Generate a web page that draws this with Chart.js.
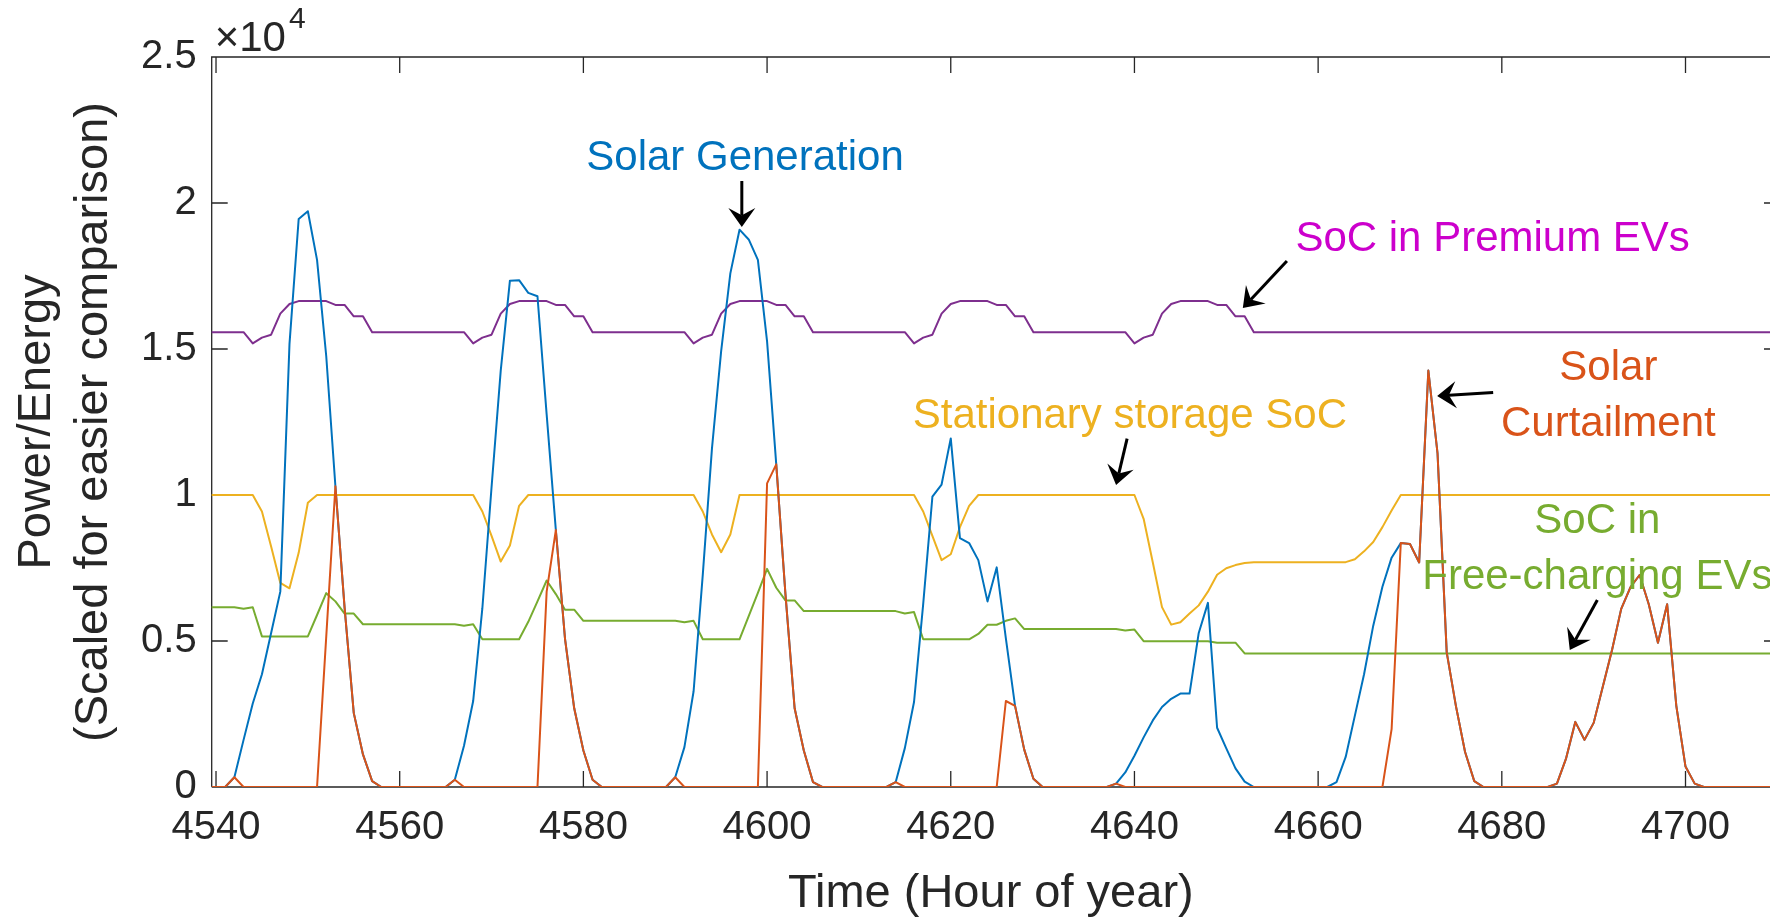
<!DOCTYPE html>
<html>
<head>
<meta charset="utf-8">
<script src="https://cdn.jsdelivr.net/npm/chart.js@4.4.1/dist/chart.umd.min.js"></script>
<style>
  html, body { margin: 0; padding: 0; background: #ffffff; }
  #c { display: block; }
</style>
</head>
<body>
<canvas id="c" width="1770" height="918" style="width:1770px;height:918px"></canvas>
<script>
// ---------------- DATA ----------------
// hour of year, one point per hour (4539 .. 4710)
const hours = [];
for (let h = 4539; h <= 4710; h++) hours.push(h);

const xTickValues = [4540, 4560, 4580, 4600, 4620, 4640, 4660, 4680, 4700];
const yTickValues = [0, 5000, 10000, 15000, 20000, 25000];
const yTickLabels = ['0', '0.5', '1', '1.5', '2', '2.5'];

const solarGeneration = [
  0, 0, 0, 333, 1614, 2862, 3860, 5275, 6690,
  15176, 19452, 19718, 18054, 14760, 10300, 6140, 2529, 1115, 200,
  0, 0, 0, 0, 0, 0, 0, 0,
  250, 1414, 2945, 6123, 10267, 14261, 17340, 17357, 16923, 16806, 12760, 8800, 5075, 2696, 1248, 250,
  0, 0, 0, 0, 0, 0, 0, 0,
  333, 1365, 3278, 7272, 11597, 14926, 17589, 19086, 18752, 18054, 15259, 11050, 6606, 2696, 1248, 166,
  0, 0, 0, 0, 0, 0, 0, 0,
  166, 1331, 2912, 6273, 9941, 10358, 11938, 8520, 8353, 7770, 6356, 7521, 5092, 2779, 1281, 283,
  0, 0, 0, 0, 0, 0, 0, 0,
  116, 500, 1070, 1700, 2280, 2740, 3020, 3200, 3200, 5275, 6306, 2030, 1320, 640, 183,
  0, 0, 0, 0, 0, 0, 0, 0, 0,
  166, 1030, 2445, 3860, 5525, 6856, 7854, 8353, 8320, 7690, 14260, 11430, 4610, 2780, 1200, 200,
  0, 0, 0, 0, 0, 0, 0, 0,
  116, 983, 2230, 1614, 2196, 3440, 4690, 6100, 6840, 7260, 6260, 4940, 6260, 2780, 699, 116,
  0, 0, 0, 0, 0, 0, 0, 0, 0
];

const solarCurtailment = [
  0, 0, 0, 333,
  0, 0, 0, 0, 0, 0, 0, 0, 0,
  5140, 10300, 6140, 2529, 1115, 200,
  0, 0, 0, 0, 0, 0, 0, 0,
  250,
  0, 0, 0, 0, 0, 0, 0, 0, 0,
  6690, 8800, 5075, 2696, 1248, 250,
  0, 0, 0, 0, 0, 0, 0, 0,
  333,
  0, 0, 0, 0, 0, 0, 0, 0, 0,
  10400, 11050, 6606, 2696, 1248, 166,
  0, 0, 0, 0, 0, 0, 0, 0,
  166,
  0, 0, 0, 0, 0, 0, 0, 0, 0, 0, 0,
  2945, 2779, 1281, 283,
  0, 0, 0, 0, 0, 0, 0, 0,
  116,
  0, 0, 0, 0, 0, 0, 0, 0, 0, 0,
  0, 0, 0, 0, 0, 0, 0, 0, 0, 0,
  0, 0, 0, 0, 0, 0, 0, 0, 0,
  1980, 8353, 8320, 7690, 14260, 11430, 4610, 2780, 1200, 200,
  0, 0, 0, 0, 0, 0, 0, 0,
  116, 983, 2230, 1614, 2196, 3440, 4690, 6100, 6840, 7260, 6260, 4940, 6260, 2780, 699, 116,
  0, 0, 0, 0, 0, 0, 0, 0, 0
];

const premiumEvSoC = [
  15575, 15575, 15575, 15575, 15575,
  15190, 15390, 15490, 16210, 16540, 16640, 16640, 16640, 16640, 16510, 16510, 16120, 16120,
  15575, 15575, 15575, 15575, 15575, 15575, 15575, 15575, 15575, 15575, 15575,
  15190, 15390, 15490, 16210, 16540, 16640, 16640, 16640, 16640, 16510, 16510, 16120, 16120,
  15575, 15575, 15575, 15575, 15575, 15575, 15575, 15575, 15575, 15575, 15575,
  15190, 15390, 15490, 16210, 16540, 16640, 16640, 16640, 16640, 16510, 16510, 16120, 16120,
  15575, 15575, 15575, 15575, 15575, 15575, 15575, 15575, 15575, 15575, 15575,
  15190, 15390, 15490, 16210, 16540, 16640, 16640, 16640, 16640, 16510, 16510, 16120, 16120,
  15575, 15575, 15575, 15575, 15575, 15575, 15575, 15575, 15575, 15575, 15575,
  15190, 15390, 15490, 16210, 16540, 16640, 16640, 16640, 16640, 16510, 16510, 16120, 16120,
  15575, 15575, 15575, 15575, 15575, 15575, 15575, 15575, 15575, 15575,
  15575, 15575, 15575, 15575, 15575, 15575, 15575, 15575, 15575, 15575,
  15575, 15575, 15575, 15575, 15575, 15575, 15575, 15575, 15575, 15575,
  15575, 15575, 15575, 15575, 15575, 15575, 15575, 15575, 15575, 15575,
  15575, 15575, 15575, 15575, 15575, 15575, 15575, 15575, 15575, 15575,
  15575, 15575, 15575, 15575, 15575, 15575, 15575, 15575
];

const stationarySoC = [
  10000, 10000, 10000, 10000, 10000, 10000,
  9435, 8240, 6990, 6806, 8020, 9734,
  10000, 10000, 10000, 10000, 10000, 10000, 10000, 10000, 10000,
  10000, 10000, 10000, 10000, 10000, 10000, 10000, 10000, 10000,
  9435, 8600, 7720, 8270, 9630,
  10000, 10000, 10000, 10000, 10000, 10000, 10000, 10000, 10000, 10000,
  10000, 10000, 10000, 10000, 10000, 10000, 10000, 10000, 10000,
  9435, 8650, 8040, 8650,
  10000, 10000, 10000, 10000, 10000, 10000, 10000, 10000, 10000, 10000,
  10000, 10000, 10000, 10000, 10000, 10000, 10000, 10000, 10000, 10000,
  9435, 8600, 7770, 7970, 8900, 9630,
  10000, 10000, 10000, 10000, 10000, 10000, 10000, 10000, 10000,
  10000, 10000, 10000, 10000, 10000, 10000, 10000, 10000, 10000,
  9185, 7690, 6160, 5560, 5640, 5940, 6220, 6690, 7270, 7490, 7600, 7670,
  7700, 7700, 7700, 7700, 7700, 7700, 7700, 7700, 7700, 7700, 7700,
  7800, 8070, 8390, 8900, 9470,
  10000, 10000, 10000, 10000, 10000, 10000, 10000, 10000, 10000, 10000,
  10000, 10000, 10000, 10000, 10000, 10000, 10000, 10000, 10000, 10000,
  10000, 10000, 10000, 10000, 10000, 10000, 10000, 10000, 10000, 10000,
  10000, 10000, 10000, 10000, 10000, 10000, 10000, 10000, 10000, 10000,
  10000, 10000
];

const freeChargingEvSoC = [
  6157, 6157, 6157, 6157, 6107, 6157,
  5158, 5158, 5158, 5158, 5158, 5158,
  5890, 6639, 6357, 5940, 5940,
  5574, 5574, 5574, 5574, 5574, 5574, 5574, 5574, 5574, 5574, 5574,
  5524, 5574,
  5059, 5059, 5059, 5059, 5059,
  5658, 6357, 7072, 6606, 6074, 6074,
  5691, 5691, 5691, 5691, 5691, 5691, 5691, 5691, 5691, 5691, 5691,
  5641, 5691,
  5059, 5059, 5059, 5059, 5059,
  5850, 6650, 7471, 6823, 6390, 6390,
  6024, 6024, 6024, 6024, 6024, 6024, 6024, 6024, 6024, 6024, 6024,
  5940, 5990,
  5059, 5059, 5059, 5059, 5059, 5059,
  5242, 5558, 5558, 5691, 5774,
  5408, 5408, 5408, 5408, 5408, 5408, 5408, 5408, 5408, 5408, 5408,
  5358, 5391,
  4992, 4992, 4992, 4992, 4992, 4992, 4992, 4992,
  4942, 4942, 4942,
  4576, 4576, 4576, 4576, 4576, 4576, 4576, 4576, 4576, 4576,
  4576, 4576, 4576, 4576, 4576, 4576, 4576, 4576, 4576, 4576,
  4576, 4576, 4576, 4576, 4576, 4576, 4576, 4576, 4576, 4576,
  4576, 4576, 4576, 4576, 4576, 4576, 4576, 4576, 4576, 4576,
  4576, 4576, 4576, 4576, 4576, 4576, 4576, 4576, 4576, 4576,
  4576, 4576, 4576, 4576, 4576, 4576, 4576, 4576, 4576
];

// Text labels (anchor in data units: hour, value at text baseline)
const labelTexts = [
  { lines: ['Solar Generation'], color: '#0072BD', x: 4597.6, y: [21147] },
  { lines: ['SoC in Premium EVs'], color: '#CC00CC', x: 4679.0, y: [18356] },
  { lines: ['Stationary storage SoC'], color: '#EDB120', x: 4639.5, y: [12310] },
  { lines: ['Solar', 'Curtailment'], color: '#D95319', x: 4691.6, y: [13940, 12035] },
  { lines: ['SoC in', 'Free-charging EVs'], color: '#77AC30', x: 4690.4, y: [8700, 6790] }
];
// Arrows: [hour, value] tail -> head
const arrowTails = [[4597.25, 20753], [4656.6, 18014], [4639.2, 11932], [4679.06, 13510], [4690.4, 6404]];
const arrowHeads = [[4597.25, 19178], [4651.8, 16404], [4638.0, 10342], [4672.96, 13390], [4687.4, 4692]];

// ---------------- CHART ----------------
const FONT = '"Liberation Sans", Arial, Helvetica, sans-serif';
const AX = '#262626';

function series(vals) { return hours.map((h, i) => ({ x: h, y: vals[i] })); }

const framePlugin = {
  id: 'frame',
  beforeDatasetsDraw(chart) {
    const { ctx, chartArea: a, scales: { x, y } } = chart;
    ctx.save();
    ctx.strokeStyle = AX;
    ctx.lineWidth = 1.3;
    ctx.beginPath();
    ctx.moveTo(a.left, a.bottom); ctx.lineTo(a.left, a.top); ctx.lineTo(a.right, a.top);
    ctx.moveTo(a.left, a.bottom); ctx.lineTo(a.right, a.bottom);
    const TL = 16;
    xTickValues.forEach(v => {
      const px = x.getPixelForValue(v);
      ctx.moveTo(px, a.bottom); ctx.lineTo(px, a.bottom - TL);
      ctx.moveTo(px, a.top); ctx.lineTo(px, a.top + TL);
    });
    yTickValues.forEach(v => {
      const py = y.getPixelForValue(v);
      ctx.moveTo(a.left, py); ctx.lineTo(a.left + TL, py);
      ctx.moveTo(a.right, py); ctx.lineTo(a.right - 6, py);
    });
    ctx.stroke();
    // exponent label
    ctx.fillStyle = AX;
    ctx.textBaseline = 'alphabetic';
    ctx.textAlign = 'left';
    ctx.font = '42px ' + FONT;
    const base = '\u00D710';
    ctx.fillText(base, a.left + 3, a.top - 6);
    const w = ctx.measureText(base).width;
    ctx.font = '30px ' + FONT;
    ctx.fillText('4', a.left + 3 + w + 3, a.top - 29);
    ctx.restore();
  }
};

function drawArrow(ctx, x1, y1, x2, y2) {
  const L = 19, W = 13.5;
  const dx = x2 - x1, dy = y2 - y1, len = Math.hypot(dx, dy);
  const ux = dx / len, uy = dy / len, nx = -uy, ny = ux;
  const bx = x2 - ux * L, by = y2 - uy * L;
  const mx = x2 - ux * L * 0.62, my = y2 - uy * L * 0.62;
  ctx.beginPath();
  ctx.moveTo(x1, y1); ctx.lineTo(mx, my);
  ctx.stroke();
  ctx.beginPath();
  ctx.moveTo(x2, y2);
  ctx.lineTo(bx + nx * W, by + ny * W);
  ctx.lineTo(mx, my);
  ctx.lineTo(bx - nx * W, by - ny * W);
  ctx.closePath();
  ctx.fill();
}

const annotationPlugin = {
  id: 'notes',
  afterDatasetsDraw(chart) {
    const { ctx, scales: { x, y } } = chart;
    ctx.save();
    ctx.font = '42px ' + FONT;
    ctx.textAlign = 'center';
    ctx.textBaseline = 'alphabetic';
    labelTexts.forEach(t => {
      ctx.fillStyle = t.color;
      t.lines.forEach((ln, i) => ctx.fillText(ln, x.getPixelForValue(t.x), y.getPixelForValue(t.y[i])));
    });
    ctx.strokeStyle = '#000000';
    ctx.fillStyle = '#000000';
    ctx.lineWidth = 3;
    arrowTails.forEach((tail, i) => {
      const head = arrowHeads[i];
      drawArrow(ctx, x.getPixelForValue(tail[0]), y.getPixelForValue(tail[1]),
                     x.getPixelForValue(head[0]), y.getPixelForValue(head[1]));
    });
    ctx.restore();
  }
};

new Chart(document.getElementById('c').getContext('2d'), {
  type: 'line',
  data: {
    datasets: [
      { label: 'Solar Curtailment', data: series(solarCurtailment), borderColor: '#D95319' },
      { label: 'Solar Generation', data: series(solarGeneration), borderColor: '#0072BD' },
      { label: 'SoC in Premium EVs', data: series(premiumEvSoC), borderColor: '#7E2F8E' },
      { label: 'Stationary storage SoC', data: series(stationarySoC), borderColor: '#EDB120' },
      { label: 'SoC in Free-charging EVs', data: series(freeChargingEvSoC), borderColor: '#77AC30' }
    ]
  },
  options: {
    responsive: false,
    animation: false,
    devicePixelRatio: 1,
    layout: { padding: { top: 57, right: 0, left: 0, bottom: 0 } },
    plugins: { legend: { display: false }, tooltip: { enabled: false } },
    elements: {
      point: { radius: 0, hoverRadius: 0 },
      line: { borderWidth: 2, tension: 0, fill: false, borderJoinStyle: 'round' }
    },
    scales: {
      x: {
        type: 'linear',
        min: 4539.53,
        max: 4709.2,
        afterFit(s) { s.height = 131; },
        afterBuildTicks(s) { s.ticks = xTickValues.map(v => ({ value: v })); },
        grid: { display: false, drawTicks: false },
        border: { display: false },
        ticks: {
          autoSkip: false, maxRotation: 0, minRotation: 0, padding: 17,
          color: AX, font: { family: FONT, size: 40 },
          callback: v => String(v)
        },
        title: {
          display: true, text: 'Time (Hour of year)', color: AX,
          font: { family: FONT, size: 47, lineHeight: 1 }, padding: { top: 0, bottom: 0 }
        }
      },
      y: {
        type: 'linear',
        min: 0,
        max: 25000,
        afterFit(s) { s.width = 211.7; },
        afterBuildTicks(s) { s.ticks = yTickValues.map(v => ({ value: v })); },
        grid: { display: false, drawTicks: false },
        border: { display: false },
        ticks: {
          autoSkip: false, padding: 15,
          color: AX, font: { family: FONT, size: 40 },
          callback: (v) => yTickLabels[yTickValues.indexOf(v)]
        },
        title: {
          display: true, text: ['Power/Energy', '(Scaled for easier comparison)'], color: AX,
          font: { family: FONT, size: 47, lineHeight: 1.21 }, padding: { top: 8.5, bottom: 0 }
        }
      }
    }
  },
  plugins: [framePlugin, annotationPlugin]
});
</script>
</body>
</html>
